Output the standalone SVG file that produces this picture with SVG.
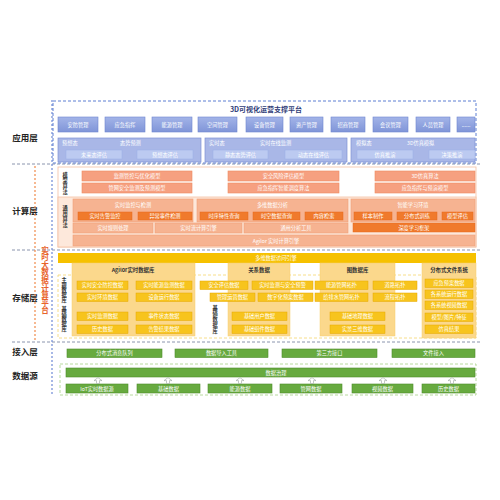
<svg xmlns="http://www.w3.org/2000/svg" width="500" height="500" viewBox="0 0 500 500">
<defs>
<linearGradient id="gb" x1="0" y1="0" x2="0" y2="1"><stop offset="0" stop-color="#a3b4e8"/><stop offset="1" stop-color="#8095d8"/></linearGradient>
<style>
text{font-family:"Noto Sans CJK SC","Noto Sans",sans-serif;}
.lay{font-size:8.5px;font-weight:bold;fill:#222;text-anchor:middle;}
.t{font-size:5.2px;fill:#fff;text-anchor:middle;}
.tl{font-size:5.2px;fill:#fff;}
.td{font-size:5.4px;fill:#333;text-anchor:middle;font-weight:bold;}
.vl{font-size:5.2px;fill:#333;font-weight:bold;writing-mode:vertical-rl;letter-spacing:0.6px;}
.sep{stroke:#8a94ad;stroke-width:1;stroke-dasharray:3 2;fill:none;}
.bb{fill:url(#gb);stroke:#6f86cf;stroke-width:0.6;}
.bbox{fill:#a9b7e7;stroke:#7f92d4;stroke-width:0.7;}
.bsub{fill:#bccaf1;stroke:#9aaee6;stroke-width:0.5;}
.om{fill:#f6a080;stroke:#ef8a5f;stroke-width:0.6;}
.ol{fill:#f6b391;stroke:#f2a078;stroke-width:0.6;}
.od{fill:#f07a2c;stroke:#e56a1d;stroke-width:0.5;}
.ybar{fill:#f6c100;}
.ydb{fill:#fbd88c;stroke:#f6cd6e;stroke-width:0.5;}
.yb{fill:#f7c41d;stroke:#e5a700;stroke-width:0.5;}
.g{fill:#67aa3f;stroke:#4d8c2b;stroke-width:0.6;}
.arr{fill:#fff;stroke:#9aa4a0;stroke-width:0.6;}
</style>
</defs>
<rect width="500" height="500" fill="#fff"/>

<g id="layer-labels">
<text class="lay" x="25" y="141">应用层</text>
<text class="lay" x="25" y="214">计算层</text>
<text class="lay" x="25" y="301">存储层</text>
<text class="lay" x="25" y="355">接入层</text>
<text class="lay" x="25" y="379">数据源</text>
</g>

<g id="frame">
<line class="sep" x1="12" y1="164" x2="480" y2="164"/>
<line class="sep" x1="12" y1="250" x2="480" y2="250"/>
<line class="sep" x1="12" y1="342" x2="480" y2="342"/>
<line x1="52" y1="100" x2="52" y2="395" stroke="#6f8ad6" stroke-width="1.2" stroke-dasharray="2 2"/>
<line x1="35" y1="166" x2="35" y2="341" stroke="#f08a4a" stroke-width="1.2" stroke-dasharray="2 2"/>
<text x="45" y="246" font-size="7.6" font-weight="bold" fill="#e8632a" style="writing-mode:vertical-rl">实时大数据计算平台</text>
</g>

<g id="app-layer">
<rect x="53" y="101" width="423" height="62" fill="none" stroke="#5d7ed2" stroke-width="1" stroke-dasharray="3 2"/>
<text x="266" y="112" font-size="7" font-weight="bold" fill="#2f3d78" text-anchor="middle">3D可视化运营支撑平台</text>
<rect class="bb" x="58" y="117" width="40" height="15"/><text class="t" x="78" y="126.5">安防管理</text>
<rect class="bb" x="105" y="117" width="40" height="15"/><text class="t" x="125" y="126.5">应急指挥</text>
<rect class="bb" x="152" y="117" width="40" height="15"/><text class="t" x="172" y="126.5">能源管理</text>
<rect class="bb" x="198" y="117" width="39" height="15"/><text class="t" x="217.5" y="126.5">空间管理</text>
<rect class="bb" x="246" y="117" width="37" height="15"/><text class="t" x="264.5" y="126.5">设备管理</text>
<rect class="bb" x="290" y="117" width="33" height="15"/><text class="t" x="306.5" y="126.5">资产管理</text>
<rect class="bb" x="331" y="117" width="34" height="15"/><text class="t" x="348" y="126.5">招商管理</text>
<rect class="bb" x="373" y="117" width="35" height="15"/><text class="t" x="390.5" y="126.5">会议管理</text>
<rect class="bb" x="416" y="117" width="34" height="15"/><text class="t" x="433" y="126.5">人员管理</text>
<rect class="bb" x="457" y="117" width="18" height="15"/><text class="t" x="466" y="126.5">......</text>

<rect class="bbox" x="58" y="138" width="143" height="24"/>
<text class="tl" x="62" y="145">预想态</text><text class="tl" x="120" y="145">态势预测</text>
<rect class="bsub" x="66" y="150" width="56" height="9"/><text class="t" x="94" y="156.5">未来态评估</text>
<rect class="bsub" x="137" y="150" width="56" height="9"/><text class="t" x="165" y="156.5">预想态评估</text>

<rect class="bbox" x="205" y="138" width="142" height="24"/>
<text class="tl" x="209" y="145">实时态</text><text class="tl" x="260" y="145">实时在线监测</text>
<rect class="bsub" x="213" y="150" width="55" height="9"/><text class="t" x="240.5" y="156.5">静态态势评估</text>
<rect class="bsub" x="285" y="150" width="57" height="9"/><text class="t" x="313.5" y="156.5">动态在线评估</text>

<rect class="bbox" x="351" y="138" width="124" height="24"/>
<text class="tl" x="356" y="145">模拟态</text><text class="tl" x="407" y="145">3D仿真模拟</text>
<rect class="bsub" x="357" y="150" width="56" height="9"/><text class="t" x="385" y="156.5">仿真推演</text>
<rect class="bsub" x="429" y="150" width="46" height="9"/><text class="t" x="452" y="156.5">决策推演</text>
</g>

<g id="compute-layer">
<rect x="58" y="167" width="418" height="80" fill="#fff" stroke="#f5c0a3" stroke-width="0.8"/>
<rect x="58" y="197" width="418" height="50" fill="#fde8db" stroke="#f5c0a3" stroke-width="0.8"/>
<text class="vl" x="65" y="172">模型算法</text>
<text class="vl" x="65" y="205">通用算法</text>

<rect class="om" x="82" y="171" width="110" height="10"/><text class="t" x="137" y="178">监测管控与优化模型</text>
<rect class="om" x="228" y="171" width="111" height="10"/><text class="t" x="283.5" y="178">安全风险评估模型</text>
<rect class="om" x="375" y="171" width="100" height="10"/><text class="t" x="425" y="178">3D仿真算法</text>
<rect class="om" x="82" y="183" width="110" height="10"/><text class="t" x="137" y="190">管网安全监测及预测模型</text>
<rect class="om" x="228" y="183" width="111" height="10"/><text class="t" x="283.5" y="190">应急指挥智能调度算法</text>
<rect class="om" x="375" y="183" width="100" height="10"/><text class="t" x="425" y="190">应急指挥与预演模型</text>

<rect class="ol" x="73" y="199" width="120" height="23"/><text class="t" x="133" y="206.5">实时监控与检测</text>
<rect class="od" x="78" y="212" width="54" height="8"/><text class="t" x="105" y="218">实时告警监控</text>
<rect class="od" x="138" y="212" width="54" height="8"/><text class="t" x="165" y="218">异常事件检测</text>

<rect class="ol" x="197" y="199" width="151" height="23"/><text class="t" x="272.5" y="206.5">多维数据分析</text>
<rect class="od" x="200" y="212" width="48" height="8"/><text class="t" x="224" y="218">时序特性查询</text>
<rect class="od" x="253" y="212" width="47" height="8"/><text class="t" x="276.5" y="218">时空数据查询</text>
<rect class="od" x="305" y="212" width="38" height="8"/><text class="t" x="324" y="218">内容检索</text>

<rect class="ol" x="351" y="199" width="124" height="23"/><text class="t" x="413" y="206.5">智能学习环境</text>
<rect class="od" x="354" y="212" width="38" height="8"/><text class="t" x="373" y="218">样本制作</text>
<rect class="od" x="397" y="212" width="40" height="8"/><text class="t" x="417" y="218">分布式训练</text>
<rect class="od" x="442" y="212" width="31" height="8"/><text class="t" x="457.5" y="218">模型评估</text>

<rect class="ol" x="73" y="223" width="80" height="10"/><text class="t" x="113" y="230">实时规则处理</text>
<rect class="ol" x="155" y="223" width="87" height="10"/><text class="t" x="198.5" y="230">实时流计算引擎</text>
<rect class="ol" x="244" y="223" width="104" height="10"/><text class="t" x="296" y="230">通用分析工具</text>
<rect class="od" x="353" y="223" width="122" height="9"/><text class="t" x="414" y="229.5">深度学习框架</text>
<rect class="ol" x="73" y="235" width="402" height="11"/><text class="t" x="276" y="242.5">Agilor 实时计算引擎</text>
</g>

<g id="storage-layer">
<rect class="ybar" x="58" y="253" width="418" height="10"/><text class="t" x="276" y="260">多维数据访问引擎</text>
<rect x="58" y="275" width="418" height="63" fill="none" stroke="#f5d56c" stroke-width="0.8" stroke-dasharray="3 2"/>
<text class="vl" x="64" y="277" style="letter-spacing:0">主题数据库</text>
<text class="vl" x="64" y="306" style="letter-spacing:0">基础数据库</text>

<rect class="ydb" x="72" y="263" width="123" height="73"/><text class="td" x="133" y="272">Agilor实时数据库</text>
<rect class="yb" x="77" y="281" width="51" height="8.5"/><text class="t" x="102.5" y="287.3">实时安全防控数据</text>
<rect class="yb" x="136" y="281" width="56" height="8.5"/><text class="t" x="164" y="287.3">实时能源监测数据</text>
<rect class="yb" x="77" y="293" width="51" height="8.5"/><text class="t" x="102.5" y="299.3">实时环境数据</text>
<rect class="yb" x="136" y="293" width="56" height="8.5"/><text class="t" x="164" y="299.3">设备运行数据</text>
<rect class="yb" x="77" y="312" width="51" height="8.5"/><text class="t" x="102.5" y="318.3">实时监测数据</text>
<rect class="yb" x="136" y="312" width="56" height="8.5"/><text class="t" x="164" y="318.3">事件状态数据</text>
<rect class="yb" x="77" y="325" width="51" height="8.5"/><text class="t" x="102.5" y="331.3">历史数据</text>
<rect class="yb" x="136" y="325" width="56" height="8.5"/><text class="t" x="164" y="331.3">告警结果数据</text>

<rect class="ydb" x="228" y="263" width="62" height="73"/><text class="td" x="259" y="272">关系数据</text>
<rect class="yb" x="200" y="281" width="48" height="8.5"/><text class="t" x="224" y="287.3">安全评估数据</text>
<rect class="yb" x="252" y="281" width="61" height="8.5"/><text class="t" x="282.5" y="287.3">实时监测与安全预警</text>
<rect class="yb" x="210" y="293" width="45" height="8.5"/><text class="t" x="232.5" y="299.3">管理运营数据</text>
<rect class="yb" x="258" y="293" width="55" height="8.5"/><text class="t" x="285.5" y="299.3">数字化预案数据</text>
<text class="vl" x="215" y="305">基础数据库</text>
<rect class="yb" x="232" y="312" width="55" height="8.5"/><text class="t" x="259.5" y="318.3">基础用户数据</text>
<rect class="yb" x="232" y="325" width="55" height="8.5"/><text class="t" x="259.5" y="331.3">基础组件数据</text>

<rect class="ydb" x="320" y="263" width="75" height="73"/><text class="td" x="357.5" y="272">图数据库</text>
<rect class="yb" x="315" y="281" width="53" height="8.5"/><text class="t" x="341.5" y="287.3">能源管网拓扑</text>
<rect class="yb" x="373" y="281" width="44" height="8.5"/><text class="t" x="395" y="287.3">道路拓扑</text>
<rect class="yb" x="315" y="293" width="53" height="8.5"/><text class="t" x="341.5" y="299.3">给排水管网拓扑</text>
<rect class="yb" x="373" y="293" width="44" height="8.5"/><text class="t" x="395" y="299.3">流程拓扑</text>
<rect class="yb" x="330" y="312" width="55" height="8.5"/><text class="t" x="357.5" y="318.3">基础地理数据</text>
<rect class="yb" x="330" y="325" width="55" height="8.5"/><text class="t" x="357.5" y="331.3">实景三维数据</text>

<rect class="ydb" x="422" y="263" width="54" height="75"/><text class="td" x="449" y="272">分布式文件系统</text>
<rect class="yb" x="425" y="279" width="48" height="8.5"/><text class="t" x="449" y="285.3">应急预案数据</text>
<rect class="yb" x="425" y="290" width="48" height="8.5"/><text class="t" x="449" y="296.3">各系统运行数据</text>
<rect class="yb" x="425" y="301" width="48" height="8.5"/><text class="t" x="449" y="307.3">各系统视频数据</text>
<rect class="yb" x="425" y="313" width="48" height="8.5"/><text class="t" x="449" y="319.3">模型/图片/特征</text>
<rect class="yb" x="425" y="325" width="48" height="8.5"/><text class="t" x="449" y="331.3">仿真结果</text>
</g>

<g id="access-layer">
<rect class="g" x="67" y="349" width="95" height="8.5"/><text class="t" x="114.5" y="355.3">分布式消息队列</text>
<rect class="g" x="175" y="349" width="93" height="8.5"/><text class="t" x="221.5" y="355.3">数据导入工具</text>
<rect class="g" x="282" y="349" width="95" height="8.5"/><text class="t" x="329.5" y="355.3">第三方接口</text>
<rect class="g" x="392" y="349" width="83" height="8.5"/><text class="t" x="433.5" y="355.3">文件接入</text>
</g>

<g id="datasource-layer">
<rect x="60" y="364" width="416" height="31" fill="none" stroke="#a6d086" stroke-width="0.8" stroke-dasharray="3 2"/>
<rect class="g" x="66" y="368" width="409" height="9"/><text class="t" x="276" y="374.5">数据治理</text>
<rect class="g" x="66" y="384" width="62" height="9"/><text class="t" x="97" y="390.5">IoT实时数据源</text>
<rect class="g" x="137" y="384" width="63" height="9"/><text class="t" x="168.5" y="390.5">基础数据</text>
<rect class="g" x="208" y="384" width="64" height="9"/><text class="t" x="240" y="390.5">能源数据</text>
<rect class="g" x="280" y="384" width="62" height="9"/><text class="t" x="311" y="390.5">管网数据</text>
<rect class="g" x="352" y="384" width="61" height="9"/><text class="t" x="382.5" y="390.5">视频数据</text>
<rect class="g" x="422" y="384" width="53" height="9"/><text class="t" x="448.5" y="390.5">历史数据</text>
</g>

<g id="connectors">
<polygon class="arr" points="98,377.6 102,380.6 99.5,380.6 99.5,383.5 96.5,383.5 96.5,380.6 94,380.6"/>
<polygon class="arr" points="168,377.6 172,380.6 169.5,380.6 169.5,383.5 166.5,383.5 166.5,380.6 164,380.6"/>
<polygon class="arr" points="240,377.6 244,380.6 241.5,380.6 241.5,383.5 238.5,383.5 238.5,380.6 236,380.6"/>
<polygon class="arr" points="312,377.6 316,380.6 313.5,380.6 313.5,383.5 310.5,383.5 310.5,380.6 308,380.6"/>
<polygon class="arr" points="383,377.6 387,380.6 384.5,380.6 384.5,383.5 381.5,383.5 381.5,380.6 379,380.6"/>
<polygon class="arr" points="452,377.6 456,380.6 453.5,380.6 453.5,383.5 450.5,383.5 450.5,380.6 448,380.6"/>
</g>
</svg>
